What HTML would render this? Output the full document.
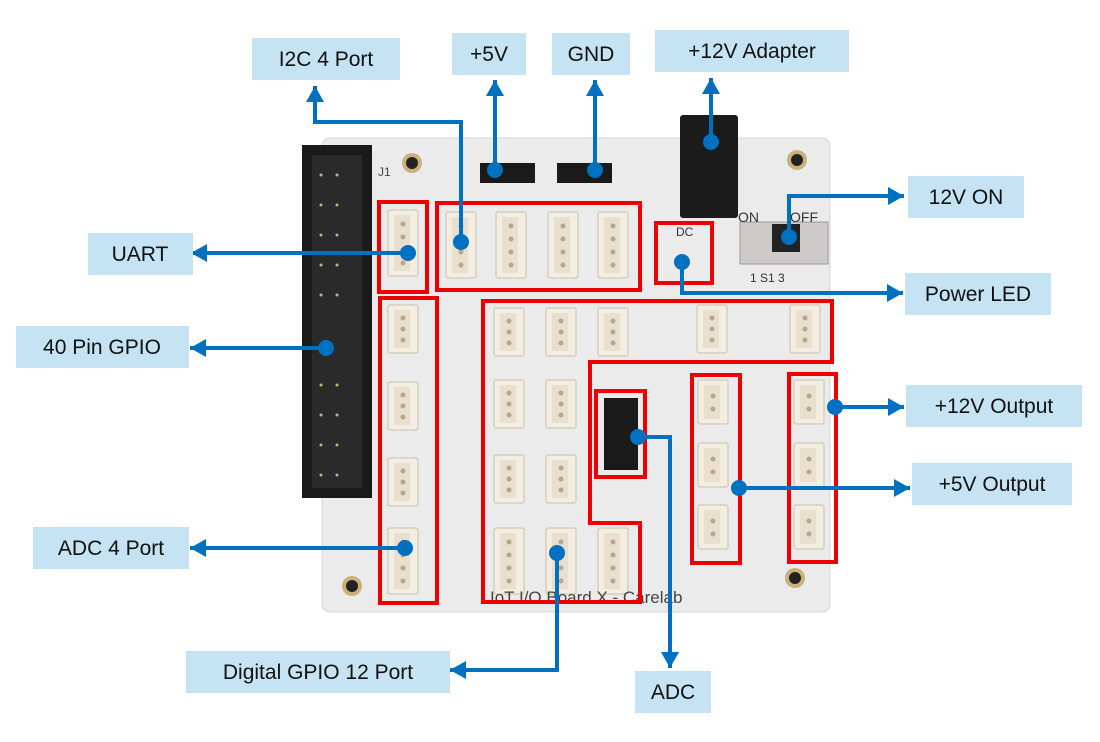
<!DOCTYPE html>
<html><head><meta charset="utf-8"><style>
body{margin:0;background:#fff;}
svg{display:block;}
text{font-family:"Liberation Sans",sans-serif;}
</style></head><body>
<svg width="1100" height="742" viewBox="0 0 1100 742" xmlns="http://www.w3.org/2000/svg">
<defs>
<marker id="ah" markerWidth="20" markerHeight="20" refX="16" refY="10" orient="auto" markerUnits="userSpaceOnUse" viewBox="0 0 20 20">
<path d="M0,1 L16,10 L0,19 z" fill="#0070c0"/></marker>
<g id="con3"><rect x="0" y="0" width="30" height="48" rx="2" fill="#f3ede2" stroke="#c9c0b0"/><rect x="6" y="5" width="16" height="38" fill="#e8dfcf"/><circle cx="15" cy="13" r="2.5" fill="#b8a78c"/><circle cx="15" cy="24" r="2.5" fill="#b8a78c"/><circle cx="15" cy="35" r="2.5" fill="#b8a78c"/></g>
<g id="con4"><rect x="0" y="0" width="30" height="66" rx="2" fill="#f3ede2" stroke="#c9c0b0"/><rect x="6" y="5" width="16" height="56" fill="#e8dfcf"/><circle cx="15" cy="14" r="2.5" fill="#b8a78c"/><circle cx="15" cy="27" r="2.5" fill="#b8a78c"/><circle cx="15" cy="40" r="2.5" fill="#b8a78c"/><circle cx="15" cy="53" r="2.5" fill="#b8a78c"/></g>
<g id="con2"><rect x="0" y="0" width="30" height="44" rx="2" fill="#f3ede2" stroke="#c9c0b0"/><rect x="6" y="5" width="16" height="34" fill="#e8dfcf"/><circle cx="15" cy="16" r="2.5" fill="#b8a78c"/><circle cx="15" cy="29" r="2.5" fill="#b8a78c"/></g>
</defs>
<rect x="322" y="138" width="508" height="474" rx="8" fill="#ebebeb" stroke="#d4d4d4"/>
<circle cx="412" cy="163" r="10" fill="#c9b27a"/><circle cx="412" cy="163" r="6" fill="#222"/>
<circle cx="797" cy="160" r="10" fill="#c9b27a"/><circle cx="797" cy="160" r="6" fill="#222"/>
<circle cx="352" cy="586" r="10" fill="#c9b27a"/><circle cx="352" cy="586" r="6" fill="#222"/>
<circle cx="795" cy="578" r="10" fill="#c9b27a"/><circle cx="795" cy="578" r="6" fill="#222"/>
<rect x="302" y="145" width="70" height="353" fill="#1a1a1a"/>
<rect x="312" y="155" width="50" height="333" fill="#2a2a2a"/>
<g fill="#c9b27a">
<circle cx="321" cy="175" r="1.5"/><circle cx="337" cy="175" r="1.5"/>
<circle cx="321" cy="205" r="1.5"/><circle cx="337" cy="205" r="1.5"/>
<circle cx="321" cy="235" r="1.5"/><circle cx="337" cy="235" r="1.5"/>
<circle cx="321" cy="265" r="1.5"/><circle cx="337" cy="265" r="1.5"/>
<circle cx="321" cy="295" r="1.5"/><circle cx="337" cy="295" r="1.5"/>
<circle cx="321" cy="385" r="1.5"/><circle cx="337" cy="385" r="1.5"/>
<circle cx="321" cy="415" r="1.5"/><circle cx="337" cy="415" r="1.5"/>
<circle cx="321" cy="445" r="1.5"/><circle cx="337" cy="445" r="1.5"/>
<circle cx="321" cy="475" r="1.5"/><circle cx="337" cy="475" r="1.5"/>
</g>
<text x="378" y="176" font-size="12" fill="#444">J1</text>
<rect x="480" y="163" width="55" height="20" fill="#1a1a1a"/>
<rect x="557" y="163" width="55" height="20" fill="#1a1a1a"/>
<rect x="680" y="115" width="58" height="103" rx="3" fill="#1b1b1b"/>
<rect x="740" y="222" width="88" height="42" fill="#cfcaca" stroke="#999"/>
<rect x="772" y="224" width="28" height="28" fill="#222"/>
<text x="738" y="222" font-size="14" fill="#333">ON</text><text x="790" y="222" font-size="14" fill="#333">OFF</text>
<text x="750" y="282" font-size="12" fill="#333">1   S1   3</text>
<text x="676" y="236" font-size="12" fill="#333">DC</text>
<use href="#con4" x="388" y="210"/>
<use href="#con4" x="446" y="212"/><use href="#con4" x="496" y="212"/><use href="#con4" x="548" y="212"/><use href="#con4" x="598" y="212"/>
<use href="#con3" x="388" y="305"/><use href="#con3" x="388" y="382"/><use href="#con3" x="388" y="458"/><use href="#con4" x="388" y="528"/>
<use href="#con3" x="494" y="308"/><use href="#con3" x="546" y="308"/><use href="#con3" x="598" y="308"/>
<use href="#con3" x="494" y="380"/><use href="#con3" x="546" y="380"/>
<use href="#con3" x="494" y="455"/><use href="#con3" x="546" y="455"/>
<use href="#con4" x="494" y="528"/><use href="#con4" x="546" y="528"/><use href="#con4" x="598" y="528"/>
<use href="#con3" x="697" y="305"/><use href="#con3" x="790" y="305"/>
<use href="#con2" x="698" y="380"/><use href="#con2" x="698" y="443"/><use href="#con2" x="698" y="505"/>
<use href="#con2" x="794" y="380"/><use href="#con2" x="794" y="443"/><use href="#con2" x="794" y="505"/>
<rect x="604" y="398" width="34" height="72" fill="#1a1a1a"/>
<text x="490" y="603" font-size="17" fill="#444" font-family="Liberation Mono">IoT I/O Board X - Carelab</text>
<g fill="none" stroke="#ee0000" stroke-width="4">
<rect x="379" y="202" width="48" height="90"/>
<rect x="437" y="203" width="203" height="87"/>
<rect x="656" y="223" width="56" height="60"/>
<rect x="380" y="298" width="57" height="305"/>
<polygon points="483,301 832,301 832,362 590,362 590,523 640,523 640,602 483,602"/>
<rect x="596" y="391" width="49" height="86"/>
<rect x="692" y="375" width="48" height="188"/>
<rect x="789" y="374" width="47" height="188"/>
</g>
<g stroke="#0070c0" stroke-width="4" fill="none">
<polyline points="461,242 461,122 315,122 315,86" marker-end="url(#ah)"/>
<line x1="495" y1="172" x2="495" y2="80" marker-end="url(#ah)"/>
<line x1="595" y1="172" x2="595" y2="80" marker-end="url(#ah)"/>
<line x1="711" y1="142" x2="711" y2="78" marker-end="url(#ah)"/>
<polyline points="789,237 789,196 904,196" marker-end="url(#ah)"/>
<line x1="408" y1="253" x2="191" y2="253" marker-end="url(#ah)"/>
<polyline points="682,262 682,293 903,293" marker-end="url(#ah)"/>
<line x1="326" y1="348" x2="190" y2="348" marker-end="url(#ah)"/>
<line x1="835" y1="407" x2="904" y2="407" marker-end="url(#ah)"/>
<line x1="739" y1="488" x2="910" y2="488" marker-end="url(#ah)"/>
<line x1="405" y1="548" x2="190" y2="548" marker-end="url(#ah)"/>
<polyline points="557,553 557,670 450,670" marker-end="url(#ah)"/>
<polyline points="638,437 670,437 670,668" marker-end="url(#ah)"/>
</g>
<g fill="#0070c0">
<circle cx="461" cy="242" r="8"/><circle cx="495" cy="170" r="8"/><circle cx="595" cy="170" r="8"/>
<circle cx="711" cy="142" r="8"/><circle cx="789" cy="237" r="8"/><circle cx="408" cy="253" r="8"/>
<circle cx="682" cy="262" r="8"/><circle cx="326" cy="348" r="8"/><circle cx="835" cy="407" r="8"/>
<circle cx="739" cy="488" r="8"/><circle cx="405" cy="548" r="8"/><circle cx="557" cy="553" r="8"/>
<circle cx="638" cy="437" r="8"/>
</g>
<g fill="#c5e3f3">
<rect x="252" y="38" width="148" height="42"/>
<rect x="452" y="33" width="74" height="42"/>
<rect x="552" y="33" width="78" height="42"/>
<rect x="655" y="30" width="194" height="42"/>
<rect x="908" y="176" width="116" height="42"/>
<rect x="88" y="233" width="105" height="42"/>
<rect x="905" y="273" width="146" height="42"/>
<rect x="16" y="326" width="173" height="42"/>
<rect x="906" y="385" width="176" height="42"/>
<rect x="912" y="463" width="160" height="42"/>
<rect x="33" y="527" width="156" height="42"/>
<rect x="186" y="651" width="264" height="42"/>
<rect x="635" y="671" width="76" height="42"/>
</g>
<g font-size="21" fill="#111" text-anchor="middle">
<text x="326" y="66">I2C 4 Port</text>
<text x="489" y="61">+5V</text>
<text x="591" y="61">GND</text>
<text x="752" y="58">+12V Adapter</text>
<text x="966" y="204">12V ON</text>
<text x="140" y="261">UART</text>
<text x="978" y="301">Power LED</text>
<text x="102" y="354">40 Pin GPIO</text>
<text x="994" y="413">+12V Output</text>
<text x="992" y="491">+5V Output</text>
<text x="111" y="555">ADC 4 Port</text>
<text x="318" y="679">Digital GPIO 12 Port</text>
<text x="673" y="699">ADC</text>
</g>
</svg>
</body></html>
